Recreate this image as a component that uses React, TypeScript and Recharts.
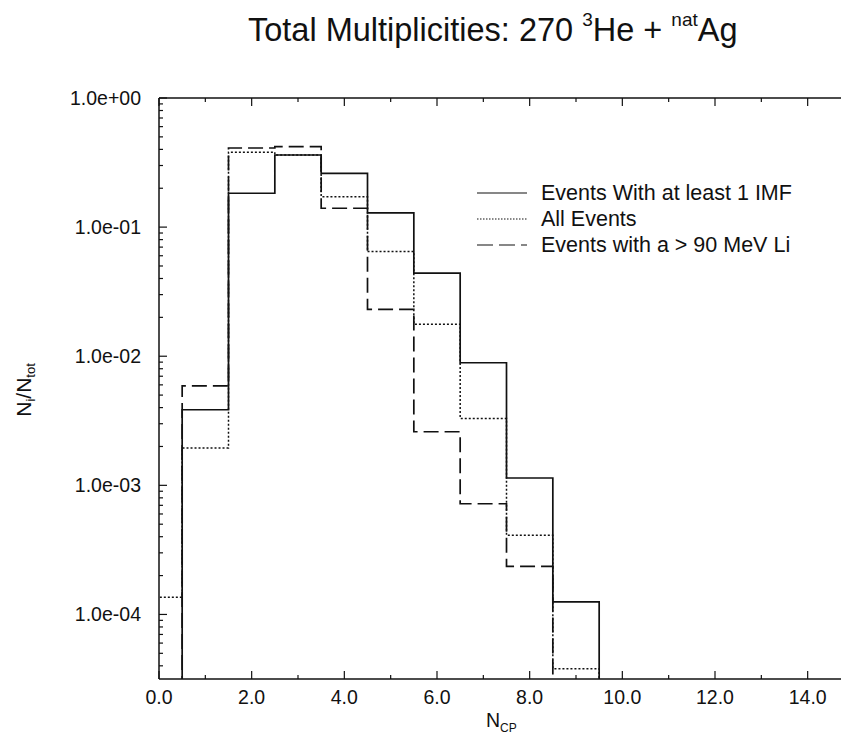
import React from "react";
import { LineChart, Line, XAxis, YAxis, Legend } from "recharts";

// ---- data (bin centers = N_CP; values = N_i/N_tot) ----
const binCenters = [0, 1, 2, 3, 4, 5, 6, 7, 8, 9];
const imfValues: (number | null)[] = [null, 3.85e-3, 0.183, 0.362, 0.261, 0.129, 0.044, 8.9e-3, 1.14e-3, 1.25e-4];
const allValues: (number | null)[] = [1.36e-4, 1.95e-3, 0.38, 0.362, 0.172, 0.0646, 0.0177, 3.3e-3, 4.1e-4, 3.8e-5];
const liValues: (number | null)[] = [null, 5.9e-3, 0.41, 0.42, 0.14, 0.0231, 2.6e-3, 7.2e-4, 2.36e-4, null];

const seriesNames = ["Events With at least 1 IMF", "All Events", "Events with a  > 90 MeV Li"];

const xTickValues = [0, 1, 2, 3, 4, 5, 6, 7, 8, 9, 10, 11, 12, 13, 14, 15];
const xTickLabels: Record<number, string> = { 0: "0.0", 2: "2.0", 4: "4.0", 6: "6.0", 8: "8.0", 10: "10.0", 12: "12.0", 14: "14.0" };
const yMajorTicks = [1e-4, 1e-3, 1e-2, 1e-1, 1];
const yTickLabels = ["1.0e-04", "1.0e-03", "1.0e-02", "1.0e-01", "1.0e+00"];

const Y_MIN = Math.pow(10, -4.5);
const Y_MAX = 1;
const FLOOR = 1e-7; // below the visible axis: empty bin

// minor ticks for the log axis
const yTicks: number[] = [];
for (let d = -5; d <= 0; d++) {
  for (let m = 1; m <= 9; m++) {
    const v = m * Math.pow(10, d);
    if (v >= Y_MIN * 0.999 && v <= Y_MAX * 1.001) yTicks.push(v);
  }
}

// step table: a point on every bin's left edge, stepAfter draws the histogram
const data = [
  ...binCenters.map((c, i) => ({
    x: c - 0.5,
    imf: imfValues[i] ?? FLOOR,
    all: allValues[i] ?? FLOOR,
    li: liValues[i] ?? FLOOR,
  })),
  { x: binCenters[binCenters.length - 1] + 0.5, imf: FLOOR, all: FLOOR, li: FLOOR },
];

const FONT = '"Liberation Sans", Arial, Helvetica, sans-serif';
const INK = "#111";

// layout
const W = 860;
const H = 728;
const MARGIN = { top: 89, right: 13, bottom: 17, left: 0 };
const Y_AXIS_W = 151;
const X_AXIS_H = 40;
const PL = MARGIN.left + Y_AXIS_W;
const PR = W - MARGIN.right - 1;
const PT = MARGIN.top + 1;
const PB = H - MARGIN.bottom - X_AXIS_H;

const isMajor = (v: number) => {
  const l = Math.log10(v);
  return Math.abs(l - Math.round(l)) < 1e-6;
};
const yLabel = (v: number) => {
  const idx = yMajorTicks.findIndex((t) => Math.abs(Math.log10(t) - Math.log10(v)) < 1e-6);
  return idx >= 0 ? yTickLabels[idx] : "";
};

const LeftTick = (props: any) => {
  const { y, payload } = props;
  const v = payload.value as number;
  const major = isMajor(v);
  return (
    <g>
      <line x1={PL} x2={PL + (major ? 8 : 4)} y1={y} y2={y} stroke={INK} strokeWidth={1.2} />
      {major && (
        <text x={PL - 18} y={y} dy="0.36em" textAnchor="end" fontSize={19.5} fontFamily={FONT} fill={INK}>
          {yLabel(v)}
        </text>
      )}
    </g>
  );
};

const RightTick = (props: any) => {
  const { y, payload } = props;
  const major = isMajor(payload.value as number);
  return <line x1={PR} x2={PR - (major ? 8 : 4)} y1={y} y2={y} stroke={INK} strokeWidth={1.2} />;
};

const BottomTick = (props: any) => {
  const { x, payload } = props;
  const v = payload.value as number;
  const major = v % 2 === 0;
  return (
    <g>
      <line x1={x} x2={x} y1={PB} y2={PB - (major ? 8 : 4)} stroke={INK} strokeWidth={1.2} />
      {xTickLabels[v] !== undefined && (
        <text x={x} y={PB + 25} textAnchor="middle" fontSize={19.5} fontFamily={FONT} fill={INK}>
          {xTickLabels[v]}
        </text>
      )}
    </g>
  );
};

const TopTick = (props: any) => {
  const { x, payload } = props;
  const major = (payload.value as number) % 2 === 0;
  return <line x1={x} x2={x} y1={PT} y2={PT + (major ? 8 : 4)} stroke={INK} strokeWidth={1.2} />;
};

const XTitle = () => (
  <text x={478} y={719} fontSize={19.5} fontFamily={FONT} fill={INK}>
    N<tspan dy={5} fontSize={12}>CP</tspan>
  </text>
);

const YTitle = () => (
  <text x={23} y={382} transform="rotate(-90, 23, 382)" textAnchor="middle" fontSize={21} fontFamily={FONT} fill={INK}>
    N<tspan dy={4} fontSize={13}>i</tspan>
    <tspan dy={-4}>/N</tspan>
    <tspan dy={4} fontSize={13}>tot</tspan>
  </text>
);

const styles = [
  { dash: undefined, width: 1.7 },
  { dash: "2 2", width: 1.5 },
  { dash: "15 6", width: 1.7 },
];

// overlay: title + legend box
const Overlay = () => (
  <svg width={W} height={H} style={{ overflow: "visible", display: "block" }}>
    <text x={240} y={33} fontSize={32.5} fontFamily={FONT} fill={INK}>
      {"Total Multiplicities: 270 "}
      <tspan dy={-15} fontSize={19}>3</tspan>
      <tspan dy={15}>{"He + "}</tspan>
      <tspan dy={-15} fontSize={19}>nat</tspan>
      <tspan dy={15}>Ag</tspan>
    </text>
    {seriesNames.map((name, i) => (
      <g key={name}>
        <line
          x1={469}
          x2={519}
          y1={185 + i * 26}
          y2={185 + i * 26}
          stroke={INK}
          strokeWidth={1.2}
          strokeDasharray={i === 1 ? "1.5 1.5" : i === 2 ? "16 6" : undefined}
        />
        <text x={533} y={191.5 + i * 26} fontSize={21.5} fontFamily={FONT} fill={INK}>
          {name}
        </text>
      </g>
    ))}
  </svg>
);

export default function App() {
  return (
    <div style={{ width: 841, height: H, overflow: "hidden", position: "relative", background: "#fff" }}>
      <LineChart width={W} height={H} data={data} margin={MARGIN}>
        <XAxis
          xAxisId="B"
          dataKey="x"
          type="number"
          domain={[0, 15]}
          allowDataOverflow
          ticks={xTickValues}
          interval={0}
          tick={<BottomTick />}
          tickLine={false}
          axisLine={{ stroke: INK, strokeWidth: 1.5 }}
          height={X_AXIS_H}
          label={<XTitle />}
        />
        <XAxis
          xAxisId="T"
          orientation="top"
          dataKey="x"
          type="number"
          domain={[0, 15]}
          allowDataOverflow
          ticks={xTickValues}
          interval={0}
          tick={<TopTick />}
          tickLine={false}
          axisLine={{ stroke: INK, strokeWidth: 1.5 }}
          height={1}
        />
        <YAxis
          yAxisId="L"
          type="number"
          scale="log"
          domain={[Y_MIN, Y_MAX]}
          allowDataOverflow
          ticks={yTicks}
          interval={0}
          tick={<LeftTick />}
          tickLine={false}
          axisLine={{ stroke: INK, strokeWidth: 1.5 }}
          width={Y_AXIS_W}
          label={<YTitle />}
        />
        <YAxis
          yAxisId="R"
          orientation="right"
          type="number"
          scale="log"
          domain={[Y_MIN, Y_MAX]}
          allowDataOverflow
          ticks={yTicks}
          interval={0}
          tick={<RightTick />}
          tickLine={false}
          axisLine={{ stroke: INK, strokeWidth: 1.5 }}
          width={1}
        />
        <Legend
          layout="horizontal"
          verticalAlign="middle"
          align="center"
          content={<Overlay />}
          wrapperStyle={{ position: "absolute", left: 0, top: 0, width: W, height: H, pointerEvents: "none" }}
        />
        <Line
          xAxisId="B"
          yAxisId="L"
          dataKey="all"
          type="stepAfter"
          stroke={INK}
          strokeWidth={styles[1].width}
          strokeDasharray={styles[1].dash}
          dot={false}
          activeDot={false}
          isAnimationActive={false}
        />
        <Line
          xAxisId="B"
          yAxisId="L"
          dataKey="li"
          type="stepAfter"
          stroke={INK}
          strokeWidth={styles[2].width}
          strokeDasharray={styles[2].dash}
          dot={false}
          activeDot={false}
          isAnimationActive={false}
        />
        <Line
          xAxisId="B"
          yAxisId="L"
          dataKey="imf"
          type="stepAfter"
          stroke={INK}
          strokeWidth={styles[0].width}
          dot={false}
          activeDot={false}
          isAnimationActive={false}
        />
      </LineChart>
    </div>
  );
}
